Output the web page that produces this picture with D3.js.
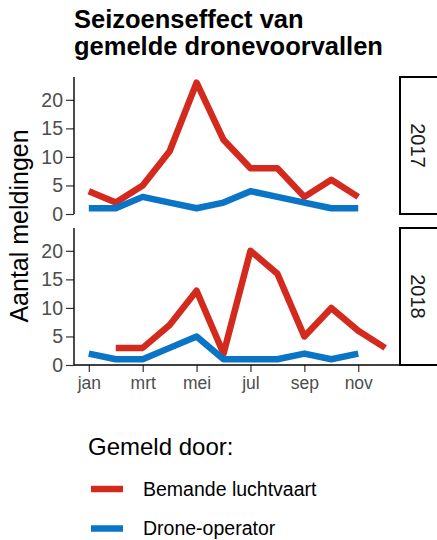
<!DOCTYPE html>
<html>
<head>
<meta charset="utf-8">
<script src="https://cdn.jsdelivr.net/npm/d3@7"></script>
<style>
  body { margin: 0; background: #fff; }
  text { font-family: "Liberation Sans", Arial, sans-serif; }
</style>
</head>
<body>
<div id="chart"></div>
<script>
// data
const months = ['jan', 'feb', 'mrt', 'apr', 'mei', 'jun', 'jul', 'aug', 'sep', 'okt', 'nov', 'dec'];
const tickMonths = ['jan', 'mrt', 'mei', 'jul', 'sep', 'nov'];
const years = ['2017', '2018'];
const bemande2017 = [4, 2, 5, 11, 23, 13, 8, 8, 3, 6, 3, null];
const drone2017 = [1, 1, 3, 2, 1, 2, 4, 3, 2, 1, 1, null];
const bemande2018 = [null, 3, 3, 7, 13, 2, 20, 16, 5, 10, 6, 3];
const drone2018 = [2, 1, 1, 3, 5, 1, 1, 1, 2, 1, 2, null];
const seriesNames = ['Bemande luchtvaart', 'Drone-operator'];
const colors = ['#d42a1e', '#0a74c6'];
const yTicks = [0, 5, 10, 15, 20];

const width = 437;
const height = 540;
const margin = {left: 74, right: 37};
const panels = [
  {top: 77, bottom: 214, year: years[0], series: [bemande2017, drone2017]},
  {top: 228, bottom: 365, year: years[1], series: [bemande2018, drone2018]}
];
const fontFamily = '"Liberation Sans", Arial, sans-serif';

const svg = d3.select('#chart')
  .append('svg')
  .attr('width', width)
  .attr('height', height);

// title, two lines
svg.append('text')
  .attr('x', 74).attr('y', 28)
  .attr('font-size', 25.5)
  .attr('font-weight', 'bold')
  .attr('fill', '#000')
  .text('Seizoenseffect van');
svg.append('text')
  .attr('x', 74).attr('y', 55)
  .attr('font-size', 25.5)
  .attr('font-weight', 'bold')
  .attr('fill', '#000')
  .text('gemelde dronevoorvallen');

const x = d3.scaleLinear()
  .domain([0.45, 12.55])
  .range([margin.left, width - margin.right]);

panels.forEach((p, pi) => {
  const y = d3.scaleLinear()
    .domain([0, 24])
    .range([p.bottom, p.top]);

  const g = svg.append('g');

  // y axis
  const yAxis = d3.axisLeft(y).tickValues(yTicks).tickSize(8).tickPadding(3);
  const ya = g.append('g')
    .attr('transform', 'translate(' + margin.left + ',0)')
    .call(yAxis);
  ya.select('.domain').remove();
  ya.selectAll('.tick line').attr('stroke', '#333').attr('stroke-width', 1.2);
  ya.selectAll('.tick text')
    .attr('font-size', 19.5)
    .attr('fill', '#4d4d4d')
    .attr('font-family', fontFamily);
  g.append('line')
    .attr('x1', margin.left).attr('x2', margin.left)
    .attr('y1', p.top).attr('y2', p.bottom)
    .attr('stroke', '#000').attr('stroke-width', 1.4);

  // x axis on the bottom panel only
  if (pi === panels.length - 1) {
    const xAxis = d3.axisBottom(x)
      .tickValues(tickMonths.map((m) => months.indexOf(m) + 1))
      .tickFormat((d) => months[d - 1])
      .tickSize(7)
      .tickPadding(5);
    const xa = g.append('g')
      .attr('transform', 'translate(0,' + p.bottom + ')')
      .call(xAxis);
    xa.select('.domain').remove();
    xa.selectAll('.tick line').attr('stroke', '#333').attr('stroke-width', 1.2);
    xa.selectAll('.tick text')
      .attr('font-size', 17.5)
      .attr('fill', '#4d4d4d')
      .attr('font-family', fontFamily);
    g.append('line')
      .attr('x1', margin.left).attr('x2', width - margin.right)
      .attr('y1', p.bottom).attr('y2', p.bottom)
      .attr('stroke', '#000').attr('stroke-width', 1.4);
  }

  // lines
  const line = d3.line()
    .defined((d) => d != null)
    .x((d, i) => x(i + 1))
    .y((d) => y(d));

  p.series.forEach((s, si) => {
    g.append('path')
      .datum(s)
      .attr('d', line)
      .attr('fill', 'none')
      .attr('stroke', colors[si])
      .attr('stroke-width', 6.5)
      .attr('stroke-linejoin', 'round');
  });

  // facet strip
  const sx = width - margin.right;
  g.append('rect')
    .attr('x', sx)
    .attr('y', p.top)
    .attr('width', 45)
    .attr('height', p.bottom - p.top)
    .attr('fill', '#fff')
    .attr('stroke', '#000')
    .attr('stroke-width', 2);
  const cy = (p.top + p.bottom) / 2;
  g.append('text')
    .attr('transform', 'translate(' + (sx + 18) + ',' + cy + ') rotate(90)')
    .attr('text-anchor', 'middle')
    .attr('dy', '0.35em')
    .attr('font-size', 20)
    .attr('fill', '#1a1a1a')
    .text(p.year);
});

// y axis title
svg.append('text')
  .attr('transform', 'translate(28,' + 226 + ') rotate(-90)')
  .attr('text-anchor', 'middle')
  .attr('font-size', 25)
  .attr('fill', '#000')
  .text('Aantal meldingen');

// legend
const legend = svg.append('g');
legend.append('text')
  .attr('x', 88)
  .attr('y', 455)
  .attr('font-size', 24)
  .attr('fill', '#000')
  .text('Gemeld door:');
seriesNames.forEach((name, i) => {
  const ly = 489 + i * 39.5;
  legend.append('line')
    .attr('x1', 91).attr('x2', 123)
    .attr('y1', ly).attr('y2', ly)
    .attr('stroke', colors[i])
    .attr('stroke-width', 6.5);
  legend.append('text')
    .attr('x', 143)
    .attr('y', ly)
    .attr('dy', '0.35em')
    .attr('font-size', 19.5)
    .attr('fill', '#000')
    .text(name);
});
</script>
</body>
</html>
